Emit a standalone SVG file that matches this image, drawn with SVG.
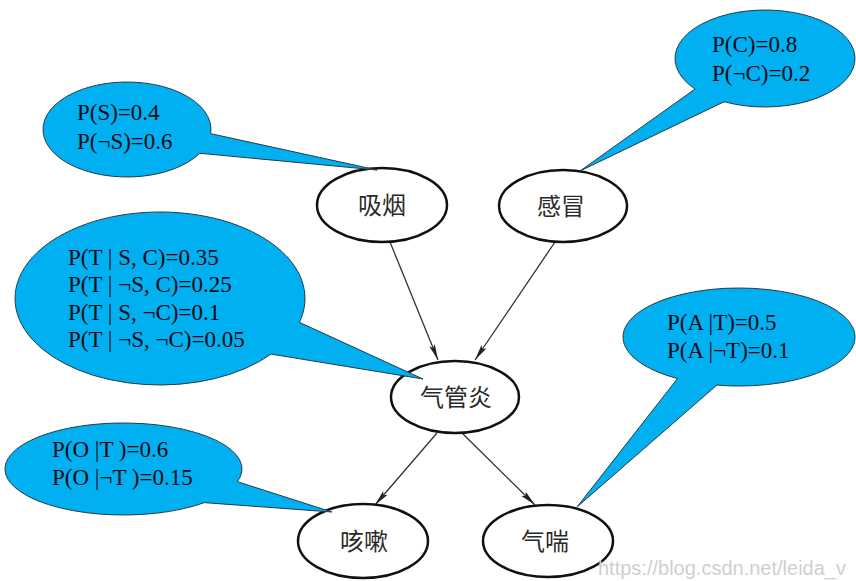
<svg xmlns="http://www.w3.org/2000/svg" width="856" height="581" viewBox="0 0 856 581">
<style>
.node{fill:#fff;stroke:#111;stroke-width:2.5}
.nt{font-family:"Noto Sans CJK SC","Noto Sans",sans-serif;font-size:24px;fill:#2a2a2a;text-anchor:middle}
.edge{stroke:#333;stroke-width:1.3;fill:none;marker-end:url(#ah)}
.call{fill:#00B0F0;stroke:#2a3a44;stroke-width:1}
.ct{font-family:"Liberation Serif","Times New Roman",serif;font-size:23px;fill:#0a0a14}
.wm{font-family:"Liberation Sans",Arial,sans-serif;font-size:20px;fill:#cfcfcf}
</style>
<defs>
<marker id="ah" markerUnits="userSpaceOnUse" markerWidth="18" markerHeight="8" refX="16" refY="3.5" orient="auto">
<path d="M0,0.5 L16,3.5 L0,6.5 L3,3.5 Z" fill="#222"/>
</marker>
</defs>
<rect width="856" height="581" fill="#fff"/>
<g id="connectors">
<line class="edge" x1="390" y1="242" x2="438" y2="360"/>
<line class="edge" x1="555" y1="242" x2="475" y2="360"/>
<line class="edge" x1="437" y1="433" x2="375" y2="505"/>
<line class="edge" x1="462" y1="433" x2="535" y2="505"/>
</g>
<g id="node-smoking">
<ellipse class="node" cx="382" cy="205" rx="65" ry="37"/>
<text class="nt" x="382" y="214">吸烟</text>
</g>
<g id="node-cold">
<ellipse class="node" cx="563" cy="206" rx="64" ry="36"/>
<text class="nt" x="561" y="215">感冒</text>
</g>
<g id="node-bronchitis">
<ellipse class="node" cx="455" cy="397" rx="64" ry="36"/>
<text class="nt" x="456" y="406">气管炎</text>
</g>
<g id="node-cough">
<ellipse class="node" cx="363" cy="541" rx="65" ry="37"/>
<text class="nt" x="364" y="550">咳嗽</text>
</g>
<g id="node-asthma">
<ellipse class="node" cx="548" cy="541" rx="65" ry="36"/>
<text class="nt" x="545" y="550">气喘</text>
</g>
<g id="callout-S">
<path class="call" d="M199.75,153.25 A84,47.5 0 1 1 210.68,133.64 L377,170 Z"/>
<text class="ct" x="77" y="120">P(S)=0.4</text>
<text class="ct" x="77" y="149">P(¬S)=0.6</text>
</g>
<g id="callout-C">
<path class="call" d="M695.06,89.02 A90,48.5 0 1 1 724.14,101.71 L580,171 Z"/>
<text class="ct" x="712" y="52">P(C)=0.8</text>
<text class="ct" x="712" y="81">P(¬C)=0.2</text>
</g>
<g id="callout-T">
<path class="call" d="M271.07,354.1 A145,86.5 0 1 1 299.39,322.34 L423,379 Z"/>
<text class="ct" x="68" y="265">P(T | S, C)=0.35</text>
<text class="ct" x="68" y="292">P(T | ¬S, C)=0.25</text>
<text class="ct" x="68" y="320">P(T | S, ¬C)=0.1</text>
<text class="ct" x="68" y="347">P(T | ¬S, ¬C)=0.05</text>
</g>
<g id="callout-O">
<path class="call" d="M204.32,502.64 A118.5,46 0 1 1 237.41,481.68 L332,512 Z"/>
<text class="ct" x="52" y="457">P(O |T )=0.6</text>
<text class="ct" x="52" y="485">P(O |¬T )=0.15</text>
</g>
<g id="callout-A">
<path class="call" d="M677.53,378.55 A116,49 0 1 1 716.87,385.1 L577,507 Z"/>
<text class="ct" x="667" y="330">P(A |T)=0.5</text>
<text class="ct" x="667" y="358">P(A |¬T)=0.1</text>
</g>
<text class="wm" x="598" y="575">https://blog.csdn.net/leida_v</text>
</svg>
